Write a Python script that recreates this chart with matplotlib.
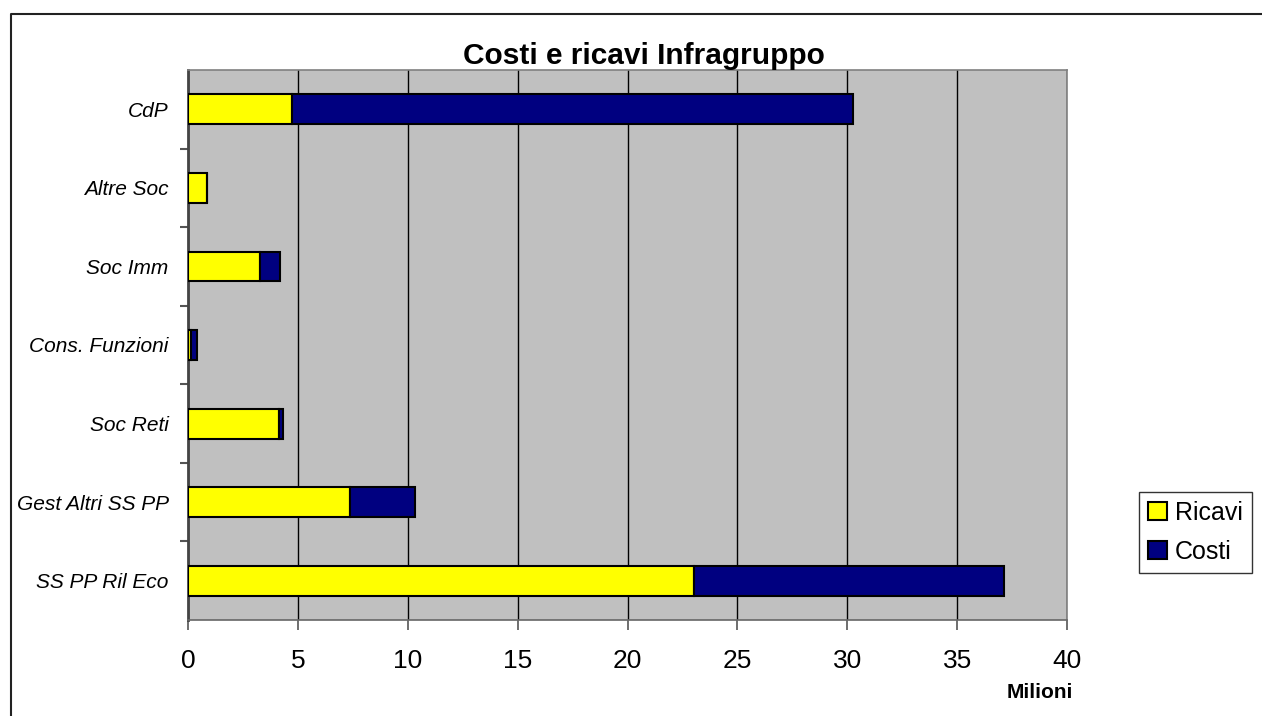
import matplotlib
matplotlib.use("Agg")
import matplotlib.pyplot as plt
from matplotlib.lines import Line2D
import numpy as np

categories = ["SS PP Ril Eco", "Gest Altri SS PP", "Soc Reti", "Cons. Funzioni",
              "Soc Imm", "Altre Soc", "CdP"]
ricavi = [23.04, 7.36, 4.16, 0.14, 3.28, 0.86, 4.75]
costi = [14.09, 2.97, 0.18, 0.28, 0.89, 0.0, 25.53]
x_ticks = [0, 5, 10, 15, 20, 25, 30, 35, 40]

W, H = 1262, 716
fig = plt.figure(figsize=(W / 100, H / 100), dpi=100)
fig.patch.set_facecolor("white")

# outer chart border (left and top edges visible)
fx = 11 / W
fy = 1 - 14 / H
fig.add_artist(Line2D([fx, fx, 1.01], [-0.01, fy, fy], transform=fig.transFigure,
                      color="#222222", linewidth=1.5))

left, right, top, bottom = 188, 1067, 70, 620
ax = fig.add_axes([left / W, 1 - bottom / H, (right - left) / W, (bottom - top) / H])
ax.set_facecolor("#c0c0c0")

y = np.arange(len(categories))
h = 0.38
ax.barh(y, ricavi, height=h, color="#ffff00", edgecolor="black", linewidth=1.5,
        label="Ricavi", zorder=3)
ax.barh(y, costi, left=ricavi, height=h, color="#000080", edgecolor="black",
        linewidth=1.5, label="Costi", zorder=3)

ax.set_xlim(0, 40)
ax.set_ylim(-0.5, len(categories) - 0.5)
ax.set_xticks(x_ticks)
ax.set_xticklabels([str(v) for v in x_ticks], fontsize=19, family="Liberation Sans")
ax.tick_params(axis="x", direction="out", length=7, width=1.2, color="#555555", pad=14)
ax.xaxis.grid(True, color="black", linewidth=1.0, zorder=1)
ax.set_axisbelow(True)

ax.set_yticks(y)
ax.set_yticklabels(categories, fontsize=15, style="italic", family="Liberation Sans")
ax.tick_params(axis="y", which="major", length=0, pad=14)
ax.set_yticks(np.arange(-0.5, len(categories) - 0.5 + 1e-9, 1.0)[1:-1], minor=True)
ax.tick_params(axis="y", which="minor", direction="out", length=6, width=1.5, color="#555555")

for s in ["top", "right"]:
    ax.spines[s].set_color("#808080")
    ax.spines[s].set_linewidth(1.2)
ax.spines["left"].set_color("#444444")
ax.spines["left"].set_linewidth(2)
ax.spines["bottom"].set_color("#666666")
ax.spines["bottom"].set_linewidth(1.2)

fig.text(644 / W, 1 - 56 / H, "Costi e ricavi Infragruppo", ha="center", va="center",
         fontsize=21.5, fontweight="bold", family="Liberation Sans")
fig.text(1040 / W, 1 - 692 / H, "Milioni", ha="center", va="center",
         fontsize=15, fontweight="bold", family="Liberation Sans")

leg = fig.legend(loc="upper left", bbox_to_anchor=(1139 / W, 1 - 492 / H),
                 frameon=True, fancybox=False,
                 prop={"family": "Liberation Sans", "size": 18},
                 handlelength=0.75, handleheight=0.75, handletextpad=0.35,
                 borderpad=0.35, labelspacing=0.6, borderaxespad=0)
leg.get_frame().set_edgecolor("black")
leg.get_frame().set_linewidth(1.0)

fig.savefig("out.png", dpi=100)
